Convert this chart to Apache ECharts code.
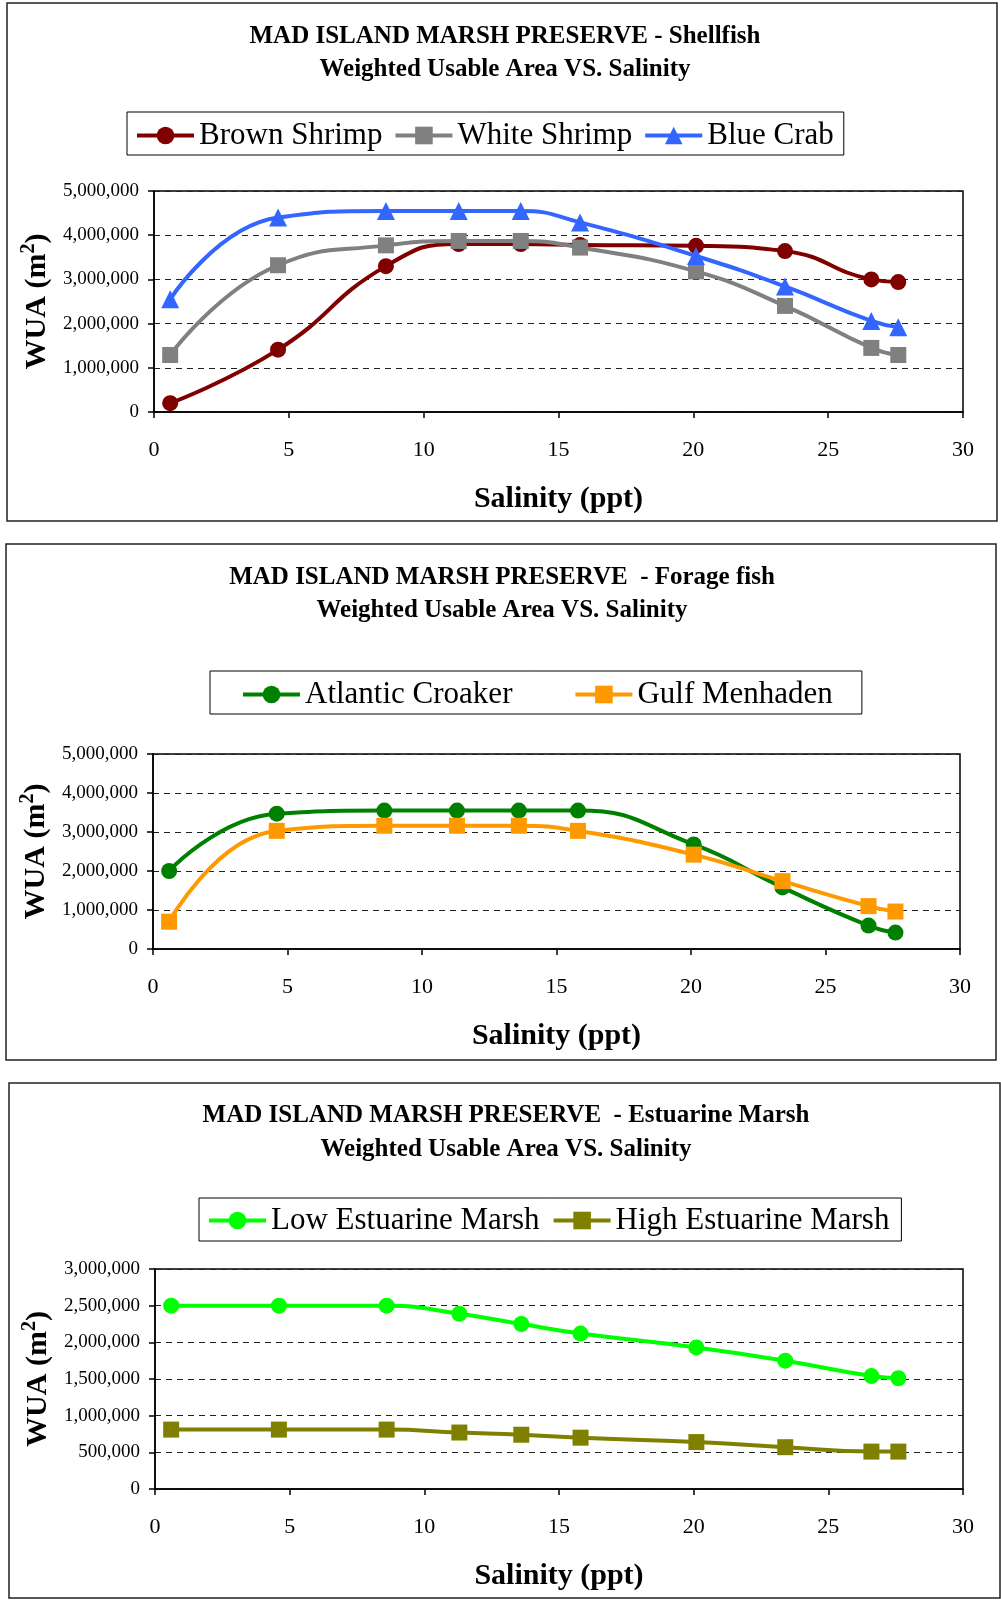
<!DOCTYPE html>
<html>
<head>
<meta charset="utf-8">
<script src="https://cdn.jsdelivr.net/npm/echarts@6/dist/echarts.min.js"></script>
<style>
html,body{margin:0;padding:0;background:#fff;}
#chart{width:1001px;height:1600px;}
</style>
</head>
<body>
<div id="chart"></div>
<script>
// ---- data ----
const salinity = [0.6, 4.6, 8.6, 11.3, 13.6, 15.8, 20.1, 23.4, 26.6, 27.6];

const brownShrimp = [200000, 1410000, 3300000, 3800000, 3800000, 3780000, 3760000, 3640000, 3000000, 2940000];
const whiteShrimp = [1290000, 3320000, 3770000, 3870000, 3870000, 3720000, 3180000, 2400000, 1450000, 1290000];
const blueCrab = [2550000, 4400000, 4550000, 4550000, 4550000, 4290000, 3530000, 2840000, 2060000, 1920000];

const atlanticCroaker = [2000000, 3470000, 3550000, 3550000, 3550000, 3550000, 2680000, 1580000, 600000, 420000];
const gulfMenhaden = [700000, 3030000, 3160000, 3160000, 3160000, 3030000, 2420000, 1740000, 1100000, 960000];

const lowMarsh = [2500000, 2500000, 2500000, 2390000, 2250000, 2120000, 1930000, 1750000, 1540000, 1510000];
const highMarsh = [810000, 810000, 810000, 770000, 740000, 700000, 640000, 570000, 510000, 510000];

const titles = [
  'MAD ISLAND MARSH PRESERVE - Shellfish\nWeighted Usable Area VS. Salinity',
  'MAD ISLAND MARSH PRESERVE  - Forage fish\nWeighted Usable Area VS. Salinity',
  'MAD ISLAND MARSH PRESERVE  - Estuarine Marsh\nWeighted Usable Area VS. Salinity'
];
const xTitle = 'Salinity (ppt)';
const yTitle = 'WUA (m{sup|2})';

// ---- build ----
const FF = '"Liberation Serif", "Times New Roman", serif';
const pair = (ys) => salinity.map((x, i) => [x, ys[i]]);
const fmt = (v) => v.toLocaleString('en-US');

const grids = [
  {left: 154, top: 191, width: 809, height: 221},
  {left: 153, top: 754, width: 807, height: 195},
  {left: 155, top: 1269, width: 808, height: 220}
];
const yMax = [5000000, 5000000, 3000000];
const yInt = [1000000, 1000000, 500000];

function xAxis(i) {
  return {
    gridIndex: i, type: 'value', min: 0, max: 30, interval: 5,
    axisLine: {show: true, lineStyle: {color: '#000', width: 1.5}},
    axisTick: {show: true, inside: false, length: 6, lineStyle: {color: '#000', width: 1.5}},
    axisLabel: {margin: 27, fontSize: 22, fontFamily: FF, color: '#000'},
    splitLine: {show: false},
    name: xTitle, nameLocation: 'middle', nameGap: 72,
    nameTextStyle: {fontSize: 30, fontWeight: 'bold', fontFamily: FF, color: '#000'}
  };
}
function yAxis(i) {
  return {
    gridIndex: i, type: 'value', min: 0, max: yMax[i], interval: yInt[i],
    axisLine: {show: true, lineStyle: {color: '#000', width: 1.5}},
    axisTick: {show: true, inside: false, length: 6, lineStyle: {color: '#000', width: 1.5}},
    axisLabel: {margin: 15, fontSize: 19, fontFamily: FF, color: '#000', formatter: fmt},
    splitLine: {show: true, lineStyle: {color: '#222', width: 1, type: [6, 5]}},
    name: yTitle, nameLocation: 'middle', nameGap: 96, nameRotate: 90,
    nameTextStyle: {
      fontSize: 30, fontWeight: 'bold', fontFamily: FF, color: '#000',
      rich: {sup: {fontSize: 20, fontWeight: 'bold', fontFamily: FF, color: '#000', padding: [0, 0, 16, 0]}}
    }
  };
}
function line(name, data, gi, color, symbol, size) {
  return {
    name, type: 'line', xAxisIndex: gi, yAxisIndex: gi,
    data: pair(data), smooth: 0.5, symbol, symbolSize: size,
    lineStyle: {color, width: 4}, itemStyle: {color},
    emphasis: {disabled: true}, animation: false
  };
}
function legend(names, left, top, pad, gap) {
  return {
    data: names, left, top, orient: 'horizontal',
    borderColor: '#000', borderWidth: 1, borderRadius: 0,
    padding: pad, itemGap: gap, itemWidth: 57, itemHeight: 22,
    lineStyle: {width: 4},
    textStyle: {fontSize: 31, fontFamily: FF, color: '#000'},
    selectedMode: false
  };
}
function titleText(t, cx, top, lh) {
  return {
    text: t, left: cx, top, textAlign: 'center', padding: 0,
    textStyle: {fontSize: 25, fontWeight: 'bold', fontFamily: FF, color: '#000', lineHeight: lh}
  };
}

const option = {
  backgroundColor: '#fff',
  animation: false,
  title: [
    titleText(titles[0], 505, 20, 33),
    titleText(titles[1], 502, 561, 33),
    titleText(titles[2], 506, 1099, 34)
  ],
  legend: [
    legend(['Brown Shrimp', 'White Shrimp', 'Blue Crab'], 127, 112, [8, 10, 4, 8], 11),
    legend(['Atlantic Croaker', 'Gulf Menhaden'], 210, 671, [8, 29, 4, 31], 61),
    legend(['Low Estuarine Marsh', 'High Estuarine Marsh'], 199, 1198, [7, 12, 5, 8], 12)
  ],
  grid: grids.map(g => Object.assign({show: true, borderColor: '#000', borderWidth: 1.5, backgroundColor: 'transparent'}, g)),
  xAxis: [xAxis(0), xAxis(1), xAxis(2)],
  yAxis: [yAxis(0), yAxis(1), yAxis(2)],
  series: [
    line('Brown Shrimp', brownShrimp, 0, '#800000', 'circle', 16),
    line('White Shrimp', whiteShrimp, 0, '#808080', 'rect', 16),
    line('Blue Crab', blueCrab, 0, '#3366FF', 'triangle', 18),
    line('Atlantic Croaker', atlanticCroaker, 1, '#008000', 'circle', 16),
    line('Gulf Menhaden', gulfMenhaden, 1, '#FF9900', 'rect', 16),
    line('Low Estuarine Marsh', lowMarsh, 2, '#00FF00', 'circle', 16),
    line('High Estuarine Marsh', highMarsh, 2, '#808000', 'rect', 16)
  ],
  graphic: [
    {type: 'rect', shape: {x: 7, y: 3, width: 990, height: 518}, style: {fill: 'none', stroke: '#222', lineWidth: 1.5}, silent: true, z: -1},
    {type: 'rect', shape: {x: 6, y: 544, width: 990, height: 516}, style: {fill: 'none', stroke: '#222', lineWidth: 1.5}, silent: true, z: -1},
    {type: 'rect', shape: {x: 9, y: 1083, width: 991, height: 515}, style: {fill: 'none', stroke: '#222', lineWidth: 1.5}, silent: true, z: -1}
  ]
};

const chart = echarts.init(document.getElementById('chart'), null, {renderer: 'canvas'});
chart.setOption(option);
</script>
</body>
</html>
